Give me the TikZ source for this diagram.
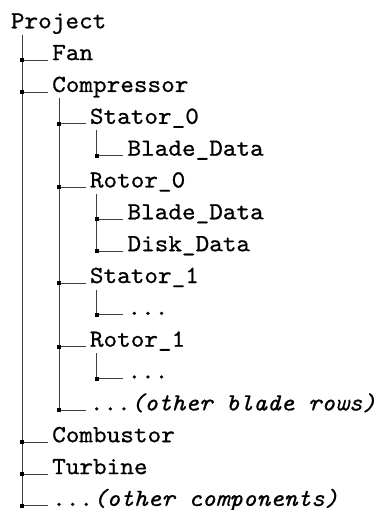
\documentclass[tikz,border=0pt]{standalone}
\usepackage{fontspec}
\setmonofont{lmmono10-regular.otf}[ItalicFont=lmmono10-italic.otf,FakeStretch=1.055,FakeBold=0.7]
\begin{document}
\begin{tikzpicture}[x=1pt,y=-1pt,
  lbl/.style={anchor=base west,inner sep=0pt,font=\fontsize{24.6}{26}\selectfont\ttfamily},
  conn/.style={line width=0.9pt,draw=black!75},
  jdot/.style={rectangle,fill=black,inner sep=0pt,minimum size=4pt}]
\useasboundingbox (0,0) rectangle (382,510);
% labels
\node[lbl] (project) at (10.7,28.3) {Project};
\node[lbl] (fan) at (52,60.1) {Fan};
\node[lbl] (comp) at (52,92.0) {Compressor};
\node[lbl] (st0) at (89.7,123.8) {Stator\_0};
\node[lbl] (st0bd) at (127.3,155.7) {Blade\_Data};
\node[lbl] (ro0) at (89.7,187.5) {Rotor\_0};
\node[lbl] (ro0bd) at (127.3,219.3) {Blade\_Data};
\node[lbl] (ro0dd) at (127.3,251.2) {Disk\_Data};
\node[lbl] (st1) at (89.7,283.0) {Stator\_1};
\node[lbl] (st1x) at (127.3,314.9) {...};
\node[lbl] (ro1) at (89.7,346.7) {Rotor\_1};
\node[lbl] (ro1x) at (127.3,378.5) {...};
\node[lbl] (obr) at (89.7,410.4) {...\textit{(other blade rows)}};
\node[lbl] (comb) at (52,442.2) {Combustor};
\node[lbl] (turb) at (52,474.1) {Turbine};
\node[lbl] (oc) at (52,505.9) {...\textit{(other components)}};
% trunk tops
\coordinate (t1) at (22,35);
\coordinate (t2) at (59.3,98.5);
\coordinate (t3a) at (96.7,130.3);
\coordinate (t3b) at (96.7,194);
\coordinate (t3c) at (96.7,289.5);
\coordinate (t3d) at (96.7,353.2);
% junctions
\coordinate (jfan) at (22,60.1);
\coordinate (jcomp) at (22,92.0);
\coordinate (jcomb) at (22,442.2);
\coordinate (jturb) at (22,474.1);
\coordinate (joc) at (22,505.9);
\coordinate (jst0) at (59.3,123.8);
\coordinate (jro0) at (59.3,187.5);
\coordinate (jst1) at (59.3,283.0);
\coordinate (jro1) at (59.3,346.7);
\coordinate (jobr) at (59.3,410.4);
\coordinate (jst0bd) at (96.7,155.7);
\coordinate (jro0bd) at (96.7,219.3);
\coordinate (jro0dd) at (96.7,251.2);
\coordinate (jst1x) at (96.7,314.9);
\coordinate (jro1x) at (96.7,378.5);
% verticals
\draw[conn] (t1) -- (joc);
\draw[conn] (t2) -- (jobr);
\draw[conn] (t3a) -- (jst0bd);
\draw[conn] (t3b) -- (jro0dd);
\draw[conn] (t3c) -- (jst1x);
\draw[conn] (t3d) -- (jro1x);
% horizontals
\foreach \j/\n in {jfan/fan,jcomp/comp,jcomb/comb,jturb/turb,joc/oc,
  jst0/st0,jro0/ro0,jst1/st1,jro1/ro1,jobr/obr,
  jst0bd/st0bd,jro0bd/ro0bd,jro0dd/ro0dd,jst1x/st1x,jro1x/ro1x}{
  \draw[conn] (\j) -- ([xshift=-4pt]\n.base west);
  \node[jdot] at (\j) {};
}
\end{tikzpicture}
\end{document}
